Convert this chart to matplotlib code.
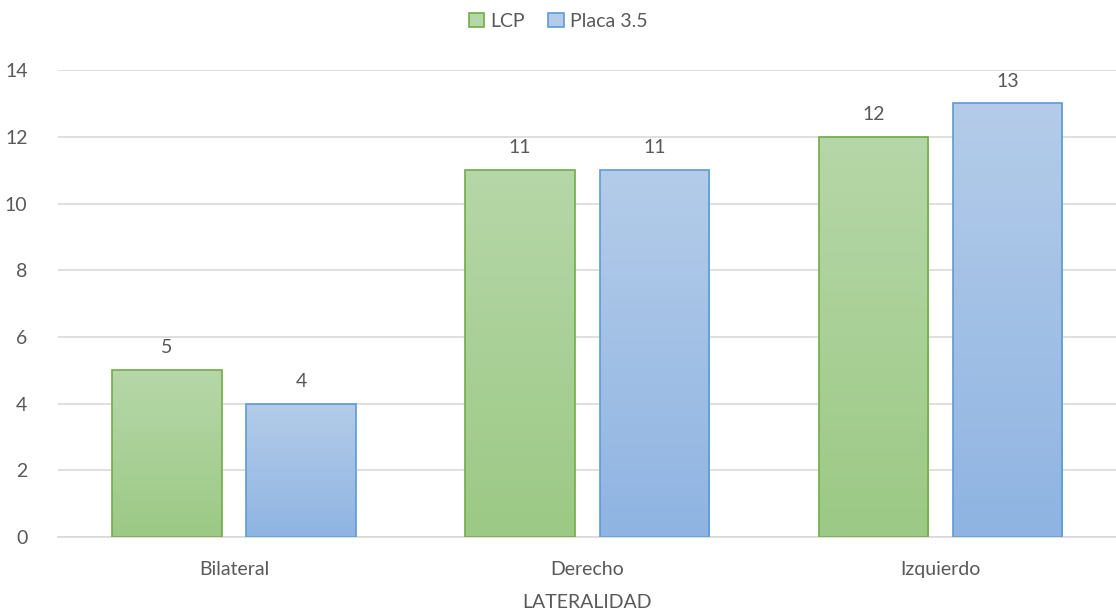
import numpy as np
import matplotlib.pyplot as plt
from matplotlib.patches import Patch

categories = ['Bilateral', 'Derecho', 'Izquierdo']
lcp = [5, 11, 12]
placa = [4, 11, 13]
series_names = ['LCP', 'Placa 3.5']

plt.rcParams['font.family'] = ['Lato', 'DejaVu Sans']
text_color = '#595959'
grid_color = '#d9d9d9'

fig = plt.figure(figsize=(11.16, 6.16), dpi=100)
ax = fig.add_axes([0.052, 0.1282, 0.948, 0.758])

x = np.arange(len(categories))
width = 0.31
offset = 0.19

styles = [
    ('#70ad47', '#b6d7a8', '#9cc985'),
    ('#5b9bd5', '#b4cce9', '#8fb4e2'),
]


def gradient_bars(xs, vals, edge, top, bottom):
    bars = ax.bar(xs, vals, width, facecolor='none', edgecolor=edge,
                  linewidth=1.2, zorder=3)
    c_top = np.array(plt.matplotlib.colors.to_rgb(top))
    c_bot = np.array(plt.matplotlib.colors.to_rgb(bottom))
    for bar in bars:
        bx, by = bar.get_x(), bar.get_y()
        bw, bh = bar.get_width(), bar.get_height()
        t = np.linspace(0, 1, 256)[:, None]
        img = (c_top * (1 - t) + c_bot * t)[:, None, :]
        im = ax.imshow(img, extent=[bx, bx + bw, by, by + bh],
                       aspect='auto', zorder=2, origin='upper')
        im.set_clip_path(bar)
    for xi, v in zip(xs, vals):
        ax.annotate(str(v), (xi, v), xytext=(0, 10), textcoords='offset points',
                    ha='center', va='bottom', fontsize=14, color=text_color)
    return bars


gradient_bars(x - offset, lcp, *styles[0])
gradient_bars(x + offset, placa, *styles[1])

ax.set_xlim(-0.498, 2.497)
ax.set_ylim(0, 14)
ax.set_yticks(range(0, 15, 2))
ax.set_xticks(x)
ax.set_xticklabels(categories)
ax.yaxis.grid(True, color=grid_color, linewidth=1.2, zorder=0)
ax.set_axisbelow(True)
for side in ['top', 'right', 'left']:
    ax.spines[side].set_visible(False)
ax.spines['bottom'].set_color(grid_color)
ax.spines['bottom'].set_linewidth(1.2)
ax.tick_params(axis='both', length=0, labelsize=14, colors=text_color)
ax.tick_params(axis='y', pad=22)
ax.tick_params(axis='x', pad=17)
ax.set_xlabel('LATERALIDAD', fontsize=14, color=text_color, labelpad=12)

handles = [Patch(facecolor=s[1], edgecolor=s[0], linewidth=1.2) for s in styles]
fig.legend(handles, series_names, loc='upper center', bbox_to_anchor=(0.5, 1.008),
           ncol=2, frameon=False, fontsize=14, labelcolor=text_color,
           handlelength=0.8, handleheight=0.8, handletextpad=0.3,
           columnspacing=1.2)

fig.savefig('out.png', dpi=100)
